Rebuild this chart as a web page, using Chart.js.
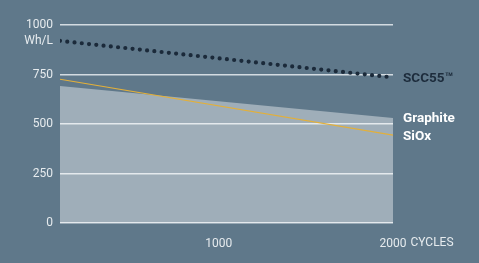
<!DOCTYPE html>
<html>
<head>
<meta charset="utf-8">
<script src="https://cdn.jsdelivr.net/npm/chart.js@4"></script>
<style>
  html, body { margin: 0; padding: 0; background: #5f788a; }
  #wrap { width: 479px; height: 263px; }
</style>
</head>
<body>
<div id="wrap"><canvas id="grafico"></canvas></div>
<script>
// values (Wh/L over cycles)
const cycles = [90, 2000];
const scc55 = [920, 735];
const graphite = [692, 530];
const siox = [726, 444];
const yTicks = [0, 250, 500, 750, 1000];
const xTicks = [1000, 2000];

const seriesNames = ['SCC55\u2122', 'Graphite', 'SiOx'];
const xPad = 14;

function pts(vals) {
  return vals.map((v, i) => ({ x: cycles[i], y: v }));
}

const labelsPlugin = {
  id: 'labels',
  afterDraw(chart) {
    const ctx = chart.ctx;
    const x = chart.scales.x;
    const y = chart.scales.y;
    ctx.save();

    // unit under the top tick
    ctx.textBaseline = 'middle';
    ctx.font = '12px Roboto';
    ctx.fillStyle = '#e6ebee';
    ctx.textAlign = 'right';
    ctx.fillText('Wh/L', 53, y.getPixelForValue(1000) + 16);

    // unit after the last x tick, same line as tick labels
    ctx.textAlign = 'left';
    ctx.textBaseline = 'top';
    const w = ctx.measureText('2000').width;
    ctx.fillText('CYCLES', x.getPixelForValue(2000) + w / 2 + 4, x.top + xPad);

    // series names at the right end
    ctx.textBaseline = 'middle';
    const lx = chart.chartArea.right + 10;
    ctx.font = 'bold 13.5px Roboto';
    ctx.fillStyle = '#1d2c3c';
    ctx.fillText(seriesNames[0], lx, y.getPixelForValue(scc55[1]) + 1);
    ctx.fillStyle = '#ffffff';
    ctx.fillText(seriesNames[1], lx, y.getPixelForValue(graphite[1]) + 1);
    ctx.fillText(seriesNames[2], lx, y.getPixelForValue(siox[1]) + 2);
    ctx.restore();
  }
};

function init() {
  const grafico = document.getElementById('grafico');
  new Chart(grafico, {
    type: 'line',
    data: {
      datasets: [
        {
          label: seriesNames[0],
          data: pts(scc55),
          borderColor: '#1b2a3a',
          borderWidth: 4.2,
          borderDash: [0, 7.3],
          borderCapStyle: 'round',
          pointRadius: 0,
          fill: false
        },
        {
          label: seriesNames[2],
          data: pts(siox),
          borderColor: '#e3b03a',
          borderWidth: 1.2,
          pointRadius: 0,
          fill: false
        },
        {
          label: seriesNames[1],
          data: pts(graphite),
          borderWidth: 0,
          borderColor: 'rgba(0,0,0,0)',
          backgroundColor: 'rgba(255,255,255,0.4)',
          pointRadius: 0,
          fill: 'origin'
        }
      ]
    },
    options: {
      responsive: true,
      maintainAspectRatio: false,
      animation: false,
      layout: { padding: { left: 0, right: 86, top: 25, bottom: 0 } },
      plugins: {
        legend: { display: false },
        tooltip: { enabled: false }
      },
      scales: {
        x: {
          type: 'linear',
          min: cycles[0],
          max: 2000,
          afterBuildTicks: s => { s.ticks = xTicks.map(v => ({ value: v })); },
          afterFit: s => { s.height = 40; },
          grid: { display: false, drawTicks: false },
          border: { display: false },
          ticks: {
            color: '#e6ebee',
            font: { family: 'Roboto', size: 12 },
            padding: xPad,
            maxRotation: 0,
            callback: v => String(v)
          }
        },
        y: {
          min: 0,
          max: 1000,
          afterBuildTicks: s => { s.ticks = yTicks.map(v => ({ value: v })); },
          afterFit: s => { s.width = 60; },
          grid: { color: '#d3dbe1', lineWidth: 1.5, drawTicks: false },
          border: { display: false },
          ticks: {
            color: '#e6ebee',
            font: { family: 'Roboto', size: 12 },
            padding: 7,
            callback: v => String(v)
          }
        }
      }
    },
    plugins: [labelsPlugin]
  });
}

init();
</script>
</body>
</html>
